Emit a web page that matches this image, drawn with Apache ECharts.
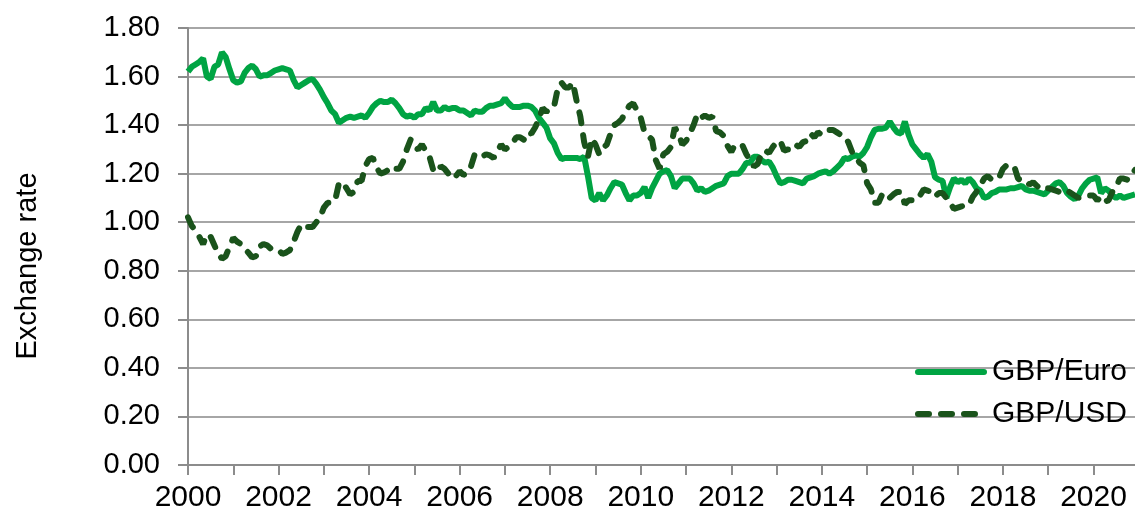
<!DOCTYPE html>
<html>
<head>
<meta charset="utf-8">
<script src="https://cdn.jsdelivr.net/npm/echarts@6/dist/echarts.min.js"></script>
<style>
  html, body { margin: 0; padding: 0; background: #fff; }
  #chart { width: 1135px; height: 517px; }
</style>
</head>
<body>
<div id="chart"></div>
<script>
// monthly values, Jan 2000 .. Dec 2020
const gbpEuro = [
  1.62, 1.64, 1.65, 1.66, 1.675, 1.60, 1.59, 1.64, 1.65, 1.70, 1.68, 1.63,
  1.585, 1.575, 1.58, 1.615, 1.635, 1.645, 1.63, 1.60, 1.605, 1.605, 1.615, 1.625,
  1.63, 1.635, 1.63, 1.625, 1.585, 1.555, 1.565, 1.575, 1.585, 1.59, 1.57, 1.545,
  1.515, 1.49, 1.46, 1.445, 1.41, 1.42, 1.43, 1.435, 1.43, 1.435, 1.44, 1.43,
  1.45, 1.475, 1.49, 1.50, 1.495, 1.495, 1.505, 1.49, 1.47, 1.445, 1.435, 1.44,
  1.43, 1.445, 1.445, 1.47, 1.46, 1.495, 1.46, 1.46, 1.475, 1.465, 1.47, 1.47,
  1.46, 1.46, 1.45, 1.44, 1.46, 1.455, 1.455, 1.47, 1.48, 1.48, 1.485, 1.49,
  1.51, 1.49, 1.475, 1.475, 1.475, 1.48, 1.48, 1.475, 1.46, 1.43, 1.41, 1.39,
  1.345, 1.325, 1.285, 1.26, 1.265, 1.265, 1.265, 1.265, 1.26, 1.27, 1.19, 1.10,
  1.09, 1.12, 1.09, 1.11, 1.14, 1.165, 1.16, 1.155, 1.12, 1.09, 1.11, 1.11,
  1.12, 1.145, 1.10, 1.14, 1.17, 1.20, 1.21, 1.215, 1.19, 1.14, 1.16, 1.18,
  1.18, 1.18, 1.16, 1.13, 1.14, 1.125, 1.13, 1.14, 1.15, 1.155, 1.16, 1.19,
  1.20, 1.20, 1.20, 1.22, 1.245, 1.245, 1.27, 1.27, 1.255, 1.245, 1.25, 1.225,
  1.19, 1.16, 1.165, 1.175, 1.175, 1.17, 1.165, 1.16, 1.18, 1.185, 1.19, 1.20,
  1.205, 1.21, 1.20, 1.21, 1.225, 1.24, 1.265, 1.26, 1.27, 1.275, 1.27, 1.285,
  1.31, 1.35, 1.38, 1.385, 1.385, 1.39, 1.415, 1.39, 1.37, 1.365, 1.415, 1.36,
  1.32, 1.30, 1.28, 1.265, 1.28, 1.25, 1.185, 1.175, 1.17, 1.10, 1.145, 1.18,
  1.165, 1.175, 1.16, 1.18, 1.165, 1.14, 1.13, 1.10, 1.105, 1.12, 1.125, 1.135,
  1.135, 1.135, 1.14, 1.14, 1.145, 1.15, 1.135, 1.13, 1.13, 1.125, 1.12, 1.115,
  1.13, 1.145, 1.16, 1.165, 1.15, 1.12, 1.105, 1.095, 1.11, 1.14, 1.16, 1.175,
  1.18, 1.185, 1.12, 1.14, 1.13, 1.11, 1.10, 1.11, 1.10, 1.105, 1.11, 1.115
]
const gbpUsd = [
  1.02, 0.985, 0.965, 0.94, 0.91, 0.95, 0.94, 0.905, 0.87, 0.85, 0.86, 0.90,
  0.935, 0.92, 0.91, 0.89, 0.875, 0.855, 0.86, 0.90, 0.91, 0.905, 0.89, 0.89,
  0.885, 0.87, 0.875, 0.885, 0.92, 0.96, 0.99, 0.98, 0.98, 0.98, 1.00, 1.02,
  1.06, 1.08, 1.08, 1.09, 1.16, 1.165, 1.14, 1.115, 1.125, 1.17, 1.17, 1.23,
  1.26, 1.265, 1.225, 1.20, 1.205, 1.215, 1.23, 1.22, 1.22, 1.25, 1.30, 1.34,
  1.31, 1.30, 1.32, 1.295, 1.27, 1.215, 1.205, 1.23, 1.22, 1.20, 1.18, 1.19,
  1.21, 1.195, 1.20, 1.23, 1.28, 1.27, 1.27, 1.28, 1.275, 1.265, 1.29, 1.32,
  1.30, 1.31, 1.325, 1.35, 1.35, 1.34, 1.37, 1.365, 1.39, 1.425, 1.47, 1.455,
  1.47, 1.475, 1.55, 1.575, 1.555, 1.555, 1.575, 1.50, 1.435, 1.33, 1.27, 1.345,
  1.32, 1.28, 1.305, 1.32, 1.365, 1.40, 1.41, 1.425, 1.455, 1.48, 1.49, 1.46,
  1.43, 1.37, 1.355, 1.34, 1.255, 1.22, 1.28, 1.29, 1.31, 1.39, 1.365, 1.32,
  1.335, 1.365, 1.40, 1.445, 1.43, 1.44, 1.43, 1.435, 1.375, 1.37, 1.355, 1.315,
  1.29, 1.32, 1.32, 1.315, 1.28, 1.255, 1.23, 1.24, 1.285, 1.295, 1.285, 1.31,
  1.33, 1.335, 1.295, 1.30, 1.30, 1.32, 1.31, 1.33, 1.335, 1.365, 1.35, 1.37,
  1.36, 1.365, 1.38, 1.38, 1.37, 1.36, 1.355, 1.33, 1.29, 1.27, 1.245, 1.235,
  1.16, 1.135, 1.08, 1.08, 1.115, 1.12, 1.10, 1.115, 1.125, 1.125, 1.075, 1.09,
  1.09, 1.11, 1.11, 1.135, 1.13, 1.125, 1.105, 1.12, 1.12, 1.10, 1.08, 1.055,
  1.06, 1.065, 1.07, 1.07, 1.105, 1.125, 1.15, 1.18, 1.19, 1.175, 1.175, 1.185,
  1.22, 1.235, 1.235, 1.23, 1.18, 1.17, 1.17, 1.155, 1.165, 1.15, 1.135, 1.14,
  1.14, 1.135, 1.13, 1.125, 1.12, 1.13, 1.12, 1.11, 1.10, 1.105, 1.105, 1.11,
  1.11, 1.09, 1.105, 1.085, 1.09, 1.125, 1.145, 1.18, 1.18, 1.175, 1.195, 1.215
]
const startYear = 2000
const months = []
for (let i = 0; i < gbpEuro.length; i++) {
  const y = startYear + Math.floor(i / 12)
  const m = (i % 12) + 1
  months.push(y + '-' + (m < 10 ? '0' + m : m))
}

const font = 'Liberation Sans, Arial, sans-serif'
const axisGrey = '#8c8c8c'

const myChart = echarts.init(document.getElementById('chart'))
const option = {
  animation: false,
  backgroundColor: '#fff',
  grid: { left: 188, right: 0, top: 28, bottom: 52, containLabel: false },
  graphic: [{
    type: 'text',
    x: 28,
    y: 266,
    rotation: Math.PI / 2,
    style: {
      text: 'Exchange rate',
      fill: '#000',
      font: '29px ' + font,
      textAlign: 'center',
      textVerticalAlign: 'middle'
    }
  }],
  legend: {
    orient: 'vertical',
    left: 910,
    top: 352,
    itemWidth: 66,
    itemHeight: 14,
    itemGap: 12,
    // no marker on the legend line, just a thick stroke like the series
    itemStyle: { opacity: 0 },
    lineStyle: { width: 6, cap: 'round' },
    textStyle: { fontSize: 30, fontFamily: font, color: '#000', padding: [0, 0, 0, 3] },
    data: ['GBP/Euro', 'GBP/USD']
  },
  xAxis: {
    type: 'category',
    data: months,
    boundaryGap: false,
    axisLine: { lineStyle: { color: axisGrey, width: 2 } },
    axisTick: {
      interval: function (i) { return i % 12 === 0 },
      length: 10,
      lineStyle: { color: axisGrey, width: 2 }
    },
    axisLabel: {
      interval: function (i) { return i % 24 === 0 },
      formatter: function (v) { return v.slice(0, 4) },
      fontSize: 30,
      fontFamily: font,
      color: '#000',
      margin: 18
    },
    splitLine: { show: false }
  },
  yAxis: {
    type: 'value',
    min: 0,
    max: 1.8,
    interval: 0.2,
    axisLine: { show: true, lineStyle: { color: axisGrey, width: 2 } },
    axisTick: { show: true, length: 10, lineStyle: { color: axisGrey, width: 2 } },
    axisLabel: {
      formatter: function (v) { return v.toFixed(2) },
      fontSize: 29,
      fontFamily: font,
      color: '#000',
      margin: 28
    },
    splitLine: { lineStyle: { color: '#a6a6a6', width: 2 } }
  },
  series: [
    {
      name: 'GBP/Euro',
      type: 'line',
      data: gbpEuro,
      symbol: 'none',
      lineStyle: { color: '#00a443', width: 6 },
      itemStyle: { color: '#00a443' }
    },
    {
      name: 'GBP/USD',
      type: 'line',
      data: gbpUsd,
      symbol: 'none',
      lineStyle: { color: '#1a531b', width: 6, type: [11, 12], cap: 'round' },
      itemStyle: { color: '#1a531b' }
    }
  ]
}
myChart.setOption(option)
</script>
</body>
</html>
